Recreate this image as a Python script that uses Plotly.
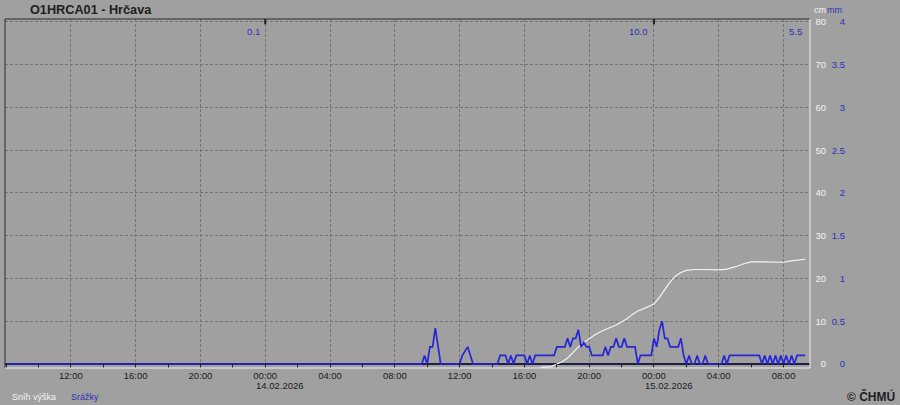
import plotly.graph_objects as go

# ---------------- data ----------------
title_text = "O1HRCA01 - Hrčava"

# precipitation (mm, 10-min), blue, right mm scale
precip_time = [
    "2026-02-13 08:00", "2026-02-14 09:40", "2026-02-14 09:50", "2026-02-14 10:00",
    "2026-02-14 10:10", "2026-02-14 10:20", "2026-02-14 10:30", "2026-02-14 10:40",
    "2026-02-14 10:50", "2026-02-14 12:00", "2026-02-14 12:10", "2026-02-14 12:20",
    "2026-02-14 12:30", "2026-02-14 12:40", "2026-02-14 12:50", "2026-02-14 14:20",
    "2026-02-14 14:30", "2026-02-14 14:50", "2026-02-14 15:00", "2026-02-14 15:10",
    "2026-02-14 15:20", "2026-02-14 15:30", "2026-02-14 16:00", "2026-02-14 16:10",
    "2026-02-14 16:20", "2026-02-14 16:30", "2026-02-14 16:40", "2026-02-14 17:50",
    "2026-02-14 18:00", "2026-02-14 18:30", "2026-02-14 18:40", "2026-02-14 18:50",
    "2026-02-14 19:00", "2026-02-14 19:10", "2026-02-14 19:20", "2026-02-14 19:30",
    "2026-02-14 19:40", "2026-02-14 19:50", "2026-02-14 20:00", "2026-02-14 20:10",
    "2026-02-14 20:50", "2026-02-14 21:00", "2026-02-14 21:10", "2026-02-14 21:20",
    "2026-02-14 21:30", "2026-02-14 21:40", "2026-02-14 21:50", "2026-02-14 22:00",
    "2026-02-14 22:10", "2026-02-14 22:20", "2026-02-14 22:50", "2026-02-14 23:00",
    "2026-02-14 23:10", "2026-02-14 23:50", "2026-02-15 00:00", "2026-02-15 00:10",
    "2026-02-15 00:20", "2026-02-15 00:30", "2026-02-15 00:40", "2026-02-15 00:50",
    "2026-02-15 01:00", "2026-02-15 01:30", "2026-02-15 01:40", "2026-02-15 01:50",
    "2026-02-15 02:00", "2026-02-15 02:10", "2026-02-15 02:20", "2026-02-15 02:30",
    "2026-02-15 02:40", "2026-02-15 02:50", "2026-02-15 03:00", "2026-02-15 03:10",
    "2026-02-15 03:20", "2026-02-15 04:10", "2026-02-15 04:20", "2026-02-15 04:30",
    "2026-02-15 04:40", "2026-02-15 06:30", "2026-02-15 06:40", "2026-02-15 06:50",
    "2026-02-15 07:00", "2026-02-15 07:10", "2026-02-15 07:20", "2026-02-15 07:30",
    "2026-02-15 07:40", "2026-02-15 07:50", "2026-02-15 08:00", "2026-02-15 08:10",
    "2026-02-15 08:20", "2026-02-15 08:30", "2026-02-15 08:40", "2026-02-15 08:50",
    "2026-02-15 09:20",
]
precip_mm = [
    0, 0, 0.1, 0,
    0.2, 0.2, 0.42, 0.2,
    0, 0, 0.1, 0.15,
    0.2, 0.1, 0, 0,
    0.1, 0.1, 0, 0.1,
    0, 0.1, 0.1, 0,
    0.1, 0, 0.1, 0.1,
    0.2, 0.2, 0.3, 0.2,
    0.3, 0.3, 0.4, 0.2,
    0.25, 0.2, 0.2, 0.1,
    0.1, 0.2, 0.1, 0.2,
    0.2, 0.3, 0.2, 0.2,
    0.3, 0.2, 0.2, 0,
    0.1, 0.1, 0.3, 0.2,
    0.4, 0.5, 0.3, 0.3,
    0.2, 0.2, 0.3, 0.1,
    0, 0.1, 0, 0,
    0.1, 0, 0, 0.1,
    0, 0, 0.1, 0,
    0.1, 0.1, 0, 0.1,
    0, 0.1, 0, 0.1,
    0, 0.1, 0, 0.1,
    0, 0.1, 0, 0.1,
    0.1,
]

# snow depth (cm), white, cm scale
snow_time = [
    "2026-02-14 17:00", "2026-02-14 17:40", "2026-02-14 18:00", "2026-02-14 18:20",
    "2026-02-14 18:40", "2026-02-14 19:00", "2026-02-14 19:20", "2026-02-14 19:40",
    "2026-02-14 20:00", "2026-02-14 20:20", "2026-02-14 20:40", "2026-02-14 21:00",
    "2026-02-14 21:20", "2026-02-14 21:40", "2026-02-14 22:00", "2026-02-14 22:20",
    "2026-02-14 22:40", "2026-02-14 23:00", "2026-02-14 23:20", "2026-02-14 23:40",
    "2026-02-15 00:00", "2026-02-15 00:20", "2026-02-15 00:40", "2026-02-15 01:00",
    "2026-02-15 01:20", "2026-02-15 01:40", "2026-02-15 02:00", "2026-02-15 02:30",
    "2026-02-15 03:00", "2026-02-15 03:30", "2026-02-15 04:00", "2026-02-15 04:30",
    "2026-02-15 05:00", "2026-02-15 05:30", "2026-02-15 06:00", "2026-02-15 06:30",
    "2026-02-15 07:00", "2026-02-15 07:30", "2026-02-15 08:00", "2026-02-15 08:30",
    "2026-02-15 09:00", "2026-02-15 09:20",
]
snow_cm = [
    -0.8, -0.6, 0.0, 0.5,
    1.4, 2.8, 4.0, 5.0,
    6.0, 6.8, 7.5, 8.1,
    8.6, 9.1, 9.8, 10.6,
    11.6, 12.4, 12.9, 13.4,
    14.0, 15.6, 17.5, 19.2,
    20.6, 21.4, 21.9, 22.1,
    22.1, 22.0, 22.0, 22.2,
    22.7, 23.4, 23.9, 23.9,
    23.9, 23.8, 23.8, 24.1,
    24.3, 24.5,
]

x_range = ["2026-02-13 07:56", "2026-02-15 09:38"]
x_tick_times = [
    "2026-02-13 12:00", "2026-02-13 16:00", "2026-02-13 20:00", "2026-02-14 00:00",
    "2026-02-14 04:00", "2026-02-14 08:00", "2026-02-14 12:00", "2026-02-14 16:00",
    "2026-02-14 20:00", "2026-02-15 00:00", "2026-02-15 04:00", "2026-02-15 08:00",
]
x_tick_labels = ["12:00", "16:00", "20:00", "00:00", "04:00", "08:00",
                 "12:00", "16:00", "20:00", "00:00", "04:00", "08:00"]
date_times = ["2026-02-14 00:00", "2026-02-15 00:00"]
date_labels = ["14.02.2026", "15.02.2026"]

cm_ticks = [0, 10, 20, 30, 40, 50, 60, 70, 80]
mm_ticks = [0, 0.5, 1, 1.5, 2, 2.5, 3, 3.5, 4]
mm_tick_labels = ["0", "0.5", "1", "1.5", "2", "2.5", "3", "3.5", "4"]

day_sum_times = ["2026-02-14 00:00", "2026-02-15 00:00", "2026-02-15 09:38"]
day_sum_labels = ["0.1", "10.0", "5.5"]
day_sum_shift = [-3, -4, -6]

# ---------------- styling ----------------
BG = "#a0a0a0"
GRID = "#737373"
BLUE = "#2626d4"
BLUE_TXT = "#2f2fb8"
WHITE = "#f4f4f4"
DARK = "#1c1c1c"
FONT = "Liberation Sans"

W, H = 900, 405
ML, MR, MT, MB = 5, 50, 19, 37
PW = W - ML - MR
dom_right = (810 - ML) / PW
pos_cm = (826 - ML) / PW
pos_mm = (845 - ML) / PW

cm_range = [-0.94, 80.7]
mm_range = [cm_range[0] / 20, cm_range[1] / 20]

fig = go.Figure()
fig.add_trace(go.Scatter(x=snow_time, y=snow_cm, mode="lines", name="Sníh výška",
                         line=dict(color=WHITE, width=1.2), yaxis="y", showlegend=False,
                         hoverinfo="skip"))
fig.add_trace(go.Scatter(x=precip_time, y=precip_mm, mode="lines", name="Srážky",
                         line=dict(color=BLUE, width=1.7), yaxis="y2", showlegend=False,
                         hoverinfo="skip"))

fig.update_layout(
    width=W, height=H,
    margin=dict(l=ML, r=MR, t=MT, b=MB, pad=0, autoexpand=False),
    paper_bgcolor=BG, plot_bgcolor=BG,
    font=dict(family=FONT, size=9.5, color=DARK),
    xaxis=dict(
        type="date", range=x_range, domain=[0, dom_right],
        tickmode="array", tickvals=x_tick_times, ticktext=x_tick_labels,
        ticks="inside", ticklen=5, tickwidth=1, tickcolor="#202020",
        minor=dict(tickmode="linear", dtick=2 * 3600 * 1000, tick0="2026-02-13 00:00",
                   ticks="inside", ticklen=4, tickcolor="#202020", showgrid=False),
        showgrid=True, gridcolor=GRID, griddash="3px,2px", gridwidth=1,
        showline=False, zeroline=False, automargin=False,
        tickfont=dict(family=FONT, size=9.5, color=DARK),
        fixedrange=True,
    ),
    yaxis=dict(
        range=cm_range, tickmode="array", tickvals=cm_ticks,
        side="left", anchor="free", position=pos_cm, automargin=False,
        showgrid=True, gridcolor=GRID, griddash="3px,2px", gridwidth=1,
        zeroline=True, zerolinecolor="#1e1e46", zerolinewidth=2,
        showline=False, ticks="", fixedrange=True,
        tickfont=dict(family=FONT, size=9.5, color=WHITE),
    ),
    yaxis2=dict(
        range=mm_range, overlaying="y", tickmode="array", tickvals=mm_ticks,
        ticktext=mm_tick_labels, side="left", anchor="free", position=pos_mm,
        showgrid=False, zeroline=False, showline=False, ticks="", automargin=False,
        fixedrange=True,
        tickfont=dict(family=FONT, size=9.5, color=BLUE_TXT),
    ),
)

annotations = []
# title
annotations.append(dict(text="<b>" + title_text + "</b>", xref="paper", yref="paper",
                        x=(28 - ML) / PW, y=1, xanchor="left", yanchor="middle", yshift=9,
                        showarrow=False, font=dict(family=FONT, size=12.7, color="#202020")))
# units
annotations.append(dict(text="cm", xref="paper", yref="paper", x=(828 - ML) / PW, y=1,
                        xanchor="right", yanchor="middle", yshift=9, showarrow=False,
                        font=dict(family=FONT, size=9, color=WHITE)))
annotations.append(dict(text="mm", xref="paper", yref="paper", x=(844 - ML) / PW, y=1,
                        xanchor="right", yanchor="middle", yshift=9, showarrow=False,
                        font=dict(family=FONT, size=9, color=BLUE_TXT)))
# daily sums
for t, lab, sh in zip(day_sum_times, day_sum_labels, day_sum_shift):
    annotations.append(dict(text=lab, xref="x", yref="y domain", x=t, y=1,
                            xanchor="right", yanchor="middle", yshift=-12, xshift=sh,
                            showarrow=False, font=dict(family=FONT, size=9.5, color=BLUE_TXT)))
# dates under midnight ticks
for t, lab in zip(date_times, date_labels):
    annotations.append(dict(text=lab, xref="x", yref="paper", x=t, y=0,
                            xanchor="left", yanchor="middle", xshift=-11, yshift=-17,
                            showarrow=False, font=dict(family=FONT, size=9.5, color=DARK)))
# legend-like labels
annotations.append(dict(text="Sníh výška", xref="paper", yref="paper", x=(10 - ML) / PW, y=0,
                        xanchor="left", yanchor="middle", yshift=-29, showarrow=False,
                        font=dict(family=FONT, size=9, color=WHITE)))
annotations.append(dict(text="Srážky", xref="paper", yref="paper", x=(69 - ML) / PW, y=0,
                        xanchor="left", yanchor="middle", yshift=-29, showarrow=False,
                        font=dict(family=FONT, size=9, color=BLUE_TXT)))
annotations.append(dict(text="<b>© ČHMÚ</b>", xref="paper", yref="paper", x=(897 - ML) / PW,
                        y=0, xanchor="right", yanchor="middle", yshift=-28, showarrow=False,
                        font=dict(family=FONT, size=12, color="#202020")))
fig.update_layout(annotations=annotations)

shapes = []
# 3D-style frame
shapes.append(dict(type="line", xref="x domain", yref="y domain", x0=0, x1=1, y0=1, y1=1,
                   line=dict(color="#2a2a2a", width=1)))
shapes.append(dict(type="line", xref="x domain", yref="y domain", x0=0, x1=0, y0=0, y1=1,
                   line=dict(color="#2a2a2a", width=1)))
shapes.append(dict(type="line", xref="x domain", yref="y domain", x0=1, x1=1, y0=0, y1=1,
                   line=dict(color="#f0f0f0", width=1)))
shapes.append(dict(type="line", xref="x domain", yref="y domain", x0=0, x1=1, y0=0, y1=0,
                   line=dict(color="#f0f0f0", width=1)))
# day boundary marks at top
for t in date_times:
    shapes.append(dict(type="line", xref="x", yref="y domain", x0=t, x1=t, y0=1, y1=0.985,
                       line=dict(color="#202020", width=2)))
fig.update_layout(shapes=shapes)

fig.write_html(
    "out.html",
    config={"displayModeBar": False, "staticPlot": True},
    post_script="document.body.style.margin='0';document.body.style.overflow='hidden';",
)
